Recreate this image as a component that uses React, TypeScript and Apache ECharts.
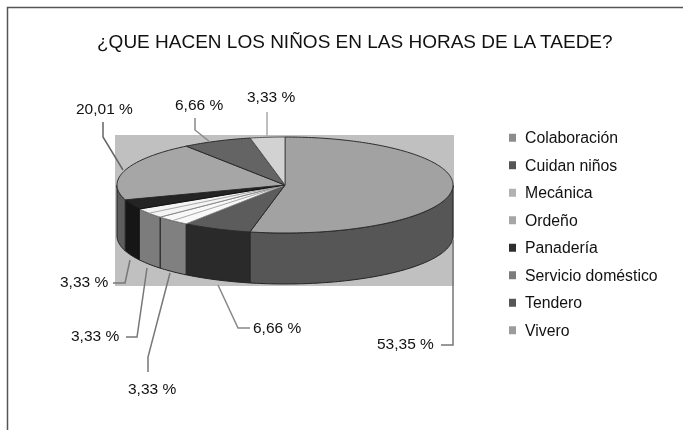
import React, { useEffect, useRef } from "react";
import * as echarts from "echarts";

const titleText = "¿QUE HACEN LOS NIÑOS EN LAS HORAS DE LA TAEDE?";
const categories = ["Colaboración", "Cuidan niños", "Mecánica", "Ordeño", "Panadería", "Servicio doméstico", "Tendero", "Vivero"];
const shares = [53.35, 6.66, 3.33, 3.33, 3.33, 20.01, 6.66, 3.33];

const topColors = ["#a2a2a2", "#5c5c5c", "#f8f8f8", "#f4f4f4", "#242424", "#a6a6a6", "#646464", "#d2d2d2"];
const sideColors = ["#565656", "#2a2a2a", "#808080", "#7c7c7c", "#161616", "#5e5e5e", "#444444", "#888888"];
const edgeColors = ["#2c2c2c", "#2c2c2c", "#8a8a8a", "#8a8a8a", "#111111", "#2c2c2c", "#2c2c2c", "#555555"];
const legendColors = ["#8c8c8c", "#555555", "#b2b2b2", "#a6a6a6", "#2e2e2e", "#7c7c7c", "#565656", "#9c9c9c"];

const pie = { cx: 285, cy: 185, rx: 168, ry: 48, depth: 51 };
const font = "'Liberation Sans', Arial, sans-serif";

const labelLayout = [
  { x: 377, y: 343, line: [[453, 240], [453, 345], [441, 345]], color: "#777777" },
  { x: 253, y: 327, line: [[218, 285], [238, 328], [250, 328]], color: "#888888" },
  { x: 128, y: 388, line: [[170, 273], [148, 357], [148, 372]], color: "#777777" },
  { x: 71, y: 335, line: [[147, 268], [137, 337], [126, 337]], color: "#777777" },
  { x: 60, y: 281, line: [[130, 260], [125, 283], [113, 283]], color: "#777777" },
  { x: 76, y: 108, line: [[123, 170], [103, 137], [103, 122]], color: "#666666" },
  { x: 175, y: 104, line: [[210, 142], [195, 130], [195, 118]], color: "#888888" },
  { x: 247, y: 96, line: [[267, 137], [267, 112]], color: "#aaaaaa" },
];

const total = shares.reduce((a, b) => a + b, 0);
const point = (t: number, dy = 0) => [pie.cx + pie.rx * Math.sin(t), pie.cy - pie.ry * Math.cos(t) + dy];

function arc(a: number, b: number, dy = 0) {
  const n = Math.max(2, Math.ceil((b - a) / 0.02));
  const pts: number[][] = [];
  for (let i = 0; i <= n; i++) pts.push(point(a + ((b - a) * i) / n, dy));
  return pts;
}

function sliceItem(index: number, value: number) {
  const before = shares.slice(0, index).reduce((a, b) => a + b, 0);
  const a = (before / total) * Math.PI * 2;
  const b = a + (value / total) * Math.PI * 2;
  const children: any[] = [];
  const sa = Math.max(a, Math.PI / 2);
  const sb = Math.min(b, (Math.PI * 3) / 2);
  if (sb > sa) {
    const upper = arc(sa, sb);
    const lower = arc(sa, sb, pie.depth).reverse();
    children.push({
      type: "polygon",
      shape: { points: upper.concat(lower) },
      style: { fill: sideColors[index], stroke: "#222222", lineWidth: 1 },
    });
  }
  children.push({
    type: "polygon",
    shape: { points: [[pie.cx, pie.cy], ...arc(a, b)] },
    style: { fill: topColors[index], stroke: edgeColors[index], lineWidth: 1 },
  });
  if (index === 2 || index === 3) {
    children.push({
      type: "line",
      shape: {
        x1: pie.cx, y1: pie.cy,
        x2: point((a + b) / 2)[0], y2: point((a + b) / 2)[1],
      },
      style: { stroke: "#a8a8a8", lineWidth: 1 },
    });
  }
  return { type: "group", children };
}

export default function App() {
  const ref = useRef<HTMLDivElement>(null);
  useEffect(() => {
    document.body.style.margin = "0";
    const chart = echarts.init(ref.current!, null, { renderer: "svg" });
    chart.setOption({
      animation: false,
      backgroundColor: "#ffffff",
      title: {
        text: titleText,
        left: 92,
        top: 27,
        textStyle: { fontFamily: font, fontSize: 19, fontWeight: "normal", color: "#111111" },
      },
      legend: {
        orient: "vertical",
        left: 504,
        top: 124,
        itemWidth: 7,
        itemHeight: 8,
        itemGap: 10,
        icon: "rect",
        selectedMode: false,
        data: categories,
        textStyle: { fontFamily: font, fontSize: 15.8, color: "#111111", padding: [0, 0, 0, 4], height: 17.5, lineHeight: 17.5 },
      },
      graphic: [
        { type: "polyline", z: 1, shape: { points: [[683, 7.5], [7.5, 7.5], [7.5, 430]] }, style: { fill: "none", stroke: "#555555", lineWidth: 1.5 } },
        { type: "rect", z: 0, shape: { x: 115, y: 135, width: 339, height: 151 }, style: { fill: "#c0c0c0" } },
        ...labelLayout.map((l) => ({
          type: "polyline", z: 20, shape: { points: l.line }, style: { fill: "none", stroke: l.color, lineWidth: 1.5 },
        })),
        ...labelLayout.map((l, i) => ({
          type: "text", z: 21, x: l.x, y: l.y,
          style: {
            text: shares[i].toFixed(2).replace(".", ",") + " %",
            fontFamily: font, fontSize: 15.5, fill: "#111111", verticalAlign: "middle",
          },
        })),
      ],
      series: categories.map((name, i) => ({
        type: "custom",
        name,
        coordinateSystem: "none",
        z: 5,
        silent: true,
        itemStyle: { color: legendColors[i] },
        data: [[shares[i]]],
        renderItem: (_p: any, api: any) => sliceItem(i, api.value(0)),
      })),
    });
    return () => chart.dispose();
  }, []);
  return <div ref={ref} style={{ width: 683, height: 430, filter: "blur(0.4px)" }} />;
}
